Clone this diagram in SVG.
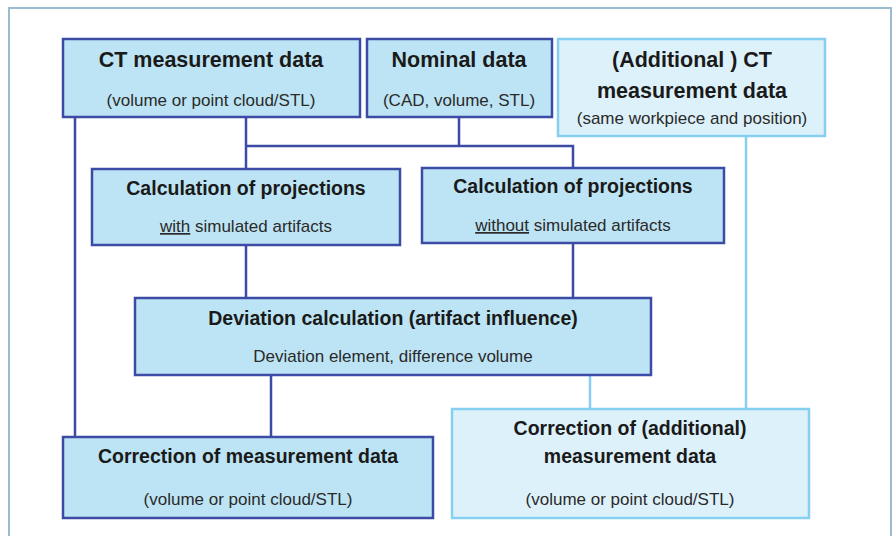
<svg xmlns="http://www.w3.org/2000/svg" width="896" height="536" viewBox="0 0 896 536">
<style>
.frame{fill:#ffffff;stroke:#9bbccf;stroke-width:2}
.dk{fill:#bde4f4;stroke:#3b4ba6;stroke-width:2.5}
.lt{fill:#ddf1fa;stroke:#86cff0;stroke-width:2.5}
.cd{fill:none;stroke:#3b4ba6;stroke-width:2.5}
.cl{fill:none;stroke:#86cff0;stroke-width:2.5}
text{font-family:"Liberation Sans",Arial,sans-serif;fill:#1a1a1a;text-anchor:middle}
.h1{font-size:21.5px;font-weight:bold}
.h2{font-size:19.5px;font-weight:bold}
.s{font-size:17px;fill:#2a2a2a}
</style>
<rect x="0" y="0" width="896" height="536" fill="#ffffff"/>
<rect class="frame" x="9" y="8" width="882" height="540"/>
<g id="connectors">
<path class="cd" d="M75,117 V437"/>
<path class="cd" d="M246,117 V169"/>
<path class="cd" d="M459,117 V146"/>
<path class="cd" d="M246,146 H573 V168"/>
<path class="cd" d="M246,245 V298"/>
<path class="cd" d="M573,243 V298"/>
<path class="cd" d="M271,375 V437"/>
<path class="cl" d="M746,136 V409"/>
<path class="cl" d="M590,375 V409"/>
</g>
<g id="ct-data">
<rect class="dk" x="63" y="39" width="297" height="78"/>
<text class="h1" x="211" y="67">CT measurement data</text>
<text class="s" x="211" y="106">(volume  or point cloud/STL)</text>
</g>
<g id="nominal-data">
<rect class="dk" x="367" y="39" width="185" height="78"/>
<text class="h1" x="459" y="67">Nominal data</text>
<text class="s" x="459" y="106">(CAD,  volume,  STL)</text>
</g>
<g id="additional-ct-data">
<rect class="lt" x="558" y="39" width="267" height="97"/>
<text class="h1" x="692" y="67">(Additional ) CT</text>
<text class="h1" x="692" y="98">measurement data</text>
<text class="s" x="692" y="124">(same workpiece and position)</text>
</g>
<g id="calc-with">
<rect class="dk" x="92" y="169" width="308" height="76"/>
<text class="h2" x="246" y="195">Calculation of projections</text>
<text class="s" x="246" y="232"><tspan text-decoration="underline">with</tspan> simulated  artifacts</text>
</g>
<g id="calc-without">
<rect class="dk" x="422" y="168" width="302" height="75"/>
<text class="h2" x="573" y="193">Calculation of projections</text>
<text class="s" x="573" y="231"><tspan text-decoration="underline">without</tspan> simulated  artifacts</text>
</g>
<g id="deviation">
<rect class="dk" x="135" y="298" width="516" height="77"/>
<text class="h2" x="393" y="325">Deviation calculation (artifact influence)</text>
<text class="s" x="393" y="362">Deviation element, difference volume</text>
</g>
<g id="correction">
<rect class="dk" x="63" y="437" width="370" height="81"/>
<text class="h2" x="248" y="463">Correction of measurement data</text>
<text class="s" x="248" y="505">(volume  or point cloud/STL)</text>
</g>
<g id="correction-additional">
<rect class="lt" x="452" y="409" width="357" height="109"/>
<text class="h2" x="630" y="435">Correction of (additional)</text>
<text class="h2" x="630" y="463">measurement data</text>
<text class="s" x="630" y="505">(volume  or point cloud/STL)</text>
</g>
</svg>
